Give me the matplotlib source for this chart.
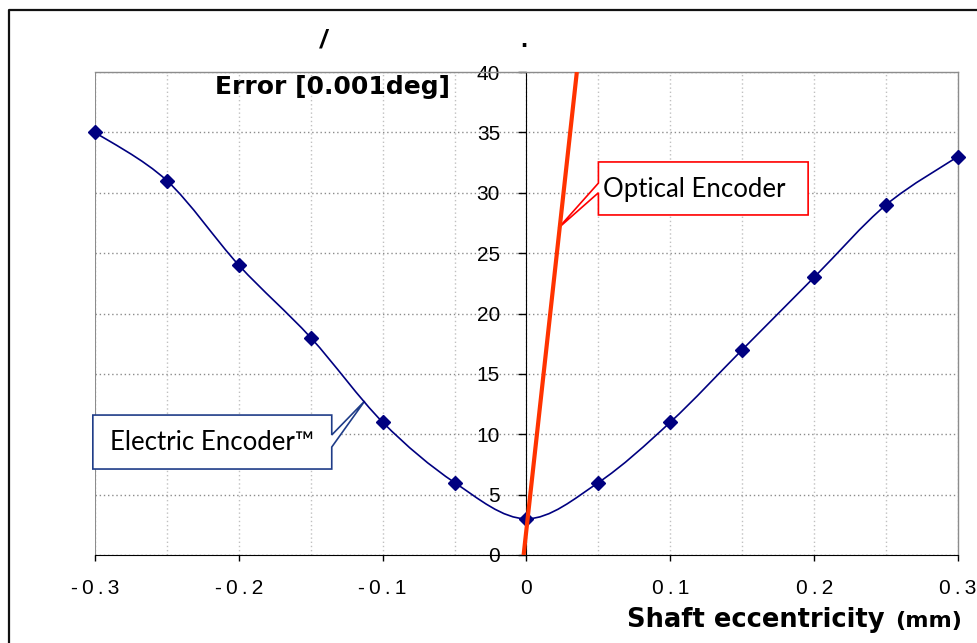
import numpy as np
import matplotlib
matplotlib.use("Agg")
import matplotlib.pyplot as plt
from matplotlib.path import Path
from matplotlib.patches import PathPatch, Polygon
from matplotlib.lines import Line2D

# electric encoder measurements
ecc = [-0.3, -0.25, -0.2, -0.15, -0.1, -0.05, 0.0, 0.05, 0.1, 0.15, 0.2, 0.25, 0.3]
err = [35, 31, 24, 18, 11, 6, 3, 6, 11, 17, 23, 29, 33]

# optical encoder line
opt_x = [-0.002, 0.035]
opt_y = [0, 40]

x_major = [-0.3, -0.2, -0.1, 0.0, 0.1, 0.2, 0.3]
x_labels = ['-0.3', '-0.2', '-0.1', '0', '0.1', '0.2', '0.3']
x_minor = [-0.25, -0.15, -0.05, 0.05, 0.15, 0.25]
y_ticks = [0, 5, 10, 15, 20, 25, 30, 35, 40]

navy = '#000080'
red = '#FF3300'
tick_font = ['Liberation Sans', 'DejaVu Sans']
note_font = ['Lato', 'DejaVu Sans']


def spaced(s):
    # the original labels are letter-spaced
    return '\u2009'.join(s)


def smooth_path(xs, ys):
    # excel style smoothed line as cubic bezier segments
    p = np.column_stack([xs, ys]).astype(float)
    n = len(p)
    verts = [p[0]]
    codes = [Path.MOVETO]
    for i in range(n - 1):
        p0 = p[i - 1] if i > 0 else p[i]
        p3 = p[i + 2] if i + 2 < n else p[i + 1]
        c1 = p[i] + (p[i + 1] - p0) / 6.0
        c2 = p[i + 1] - (p3 - p[i]) / 6.0
        verts += [c1, c2, p[i + 1]]
        codes += [Path.CURVE4] * 3
    return Path(verts, codes)


fig = plt.figure(figsize=(9.78, 6.43), dpi=100)
ax = fig.add_axes([95 / 978, 88 / 643, 863 / 978, 483 / 643])
ax.set_xlim(-0.3, 0.3)
ax.set_ylim(0, 40)

# spines
ax.spines['left'].set_position(('data', 0))
ax.spines['left'].set_color('black')
ax.spines['bottom'].set_color('black')
for s in ['top', 'right']:
    ax.spines[s].set_color('#8c8c8c')
    ax.spines[s].set_linewidth(1.0)
ax.axvline(-0.3, color='#8c8c8c', lw=1.5, zorder=1)

ax.tick_params(axis='x', which='major', direction='out', length=4.5, width=1, pad=13, labelsize=15)
ax.tick_params(axis='x', which='minor', length=0)
ax.tick_params(axis='y', direction='out', length=6, width=1, pad=13, labelsize=15)
ax.set_xticks(x_major)
ax.set_xticklabels([spaced(t) for t in x_labels], family=tick_font, fontsize=15)
ax.set_xticks(x_minor, minor=True)
ax.set_yticks(y_ticks)
ax.set_yticklabels([str(v) for v in y_ticks], family=tick_font, fontsize=15)

ax.grid(axis='x', which='both', ls=(0, (1, 2)), color='#c0c0c0', lw=1)
ax.grid(axis='y', which='major', ls=(0, (1, 2)), color='#8c8c8c', lw=1)
ax.set_axisbelow(True)

# callouts
opt_box = [(0.05, 32.55), (0.1958, 32.55), (0.1958, 28.16), (0.05, 28.16),
           (0.05, 30.0), (0.0222, 27.08), (0.05, 30.8)]
ax.add_patch(Polygon(opt_box, closed=True, fc='white', ec='#FF0000', lw=1.2, zorder=3, clip_on=False))
ax.text(0.1165, 30.3, 'Optical Encoder', family=note_font, fontsize=18.5,
        ha='center', va='center', zorder=4)

ele_box = [(-0.3015, 11.59), (-0.1354, 11.59), (-0.1354, 9.94), (-0.1125, 12.75),
           (-0.1354, 8.94), (-0.1354, 7.12), (-0.3015, 7.12)]
ax.add_patch(Polygon(ele_box, closed=True, fc='white', ec='#1F3C88', lw=1.2, zorder=3, clip_on=False))
ax.text(-0.2185, 9.3, 'Electric Encoder\u2122', family=note_font, fontsize=18.5,
        ha='center', va='center', zorder=4)

# data
ax.add_patch(PathPatch(smooth_path(ecc, err), fill=False, ec=navy, lw=1.2, zorder=5))
ax.plot(ecc, err, ls='none', marker='D', ms=7, color=navy, zorder=6, clip_on=False)
ax.plot(opt_x, opt_y, color=red, lw=3, zorder=7, solid_capstyle='butt')

# axis titles
fig.text(450 / 978, 1 - 87 / 643, 'Error [0.001deg]', family='DejaVu Sans',
         weight='bold', fontsize=18, ha='right', va='center')
fig.text(627 / 978, 1 - 620 / 643, 'Shaft eccentricity', family='DejaVu Sans',
         weight='bold', fontsize=18.5, ha='left', va='center')
fig.text(962 / 978, 1 - 621 / 643, '(mm)', family='DejaVu Sans',
         weight='bold', fontsize=16, ha='right', va='center')

# leftovers of the original title
fig.text(323 / 978, 1 - 40 / 643, '/', family=tick_font, style='italic', weight='bold',
         fontsize=18, ha='center', va='center')
fig.text(524 / 978, 1 - 40 / 643, '.', family=tick_font, weight='bold',
         fontsize=18, ha='center', va='center')

# outer frame
fig.add_artist(Line2D([8.5 / 978, 8.5 / 978, 1.0], [0.0, 1 - 9.5 / 643, 1 - 9.5 / 643],
                      transform=fig.transFigure, color='#111111', lw=1.6))

fig.savefig('out.png', dpi=100)
